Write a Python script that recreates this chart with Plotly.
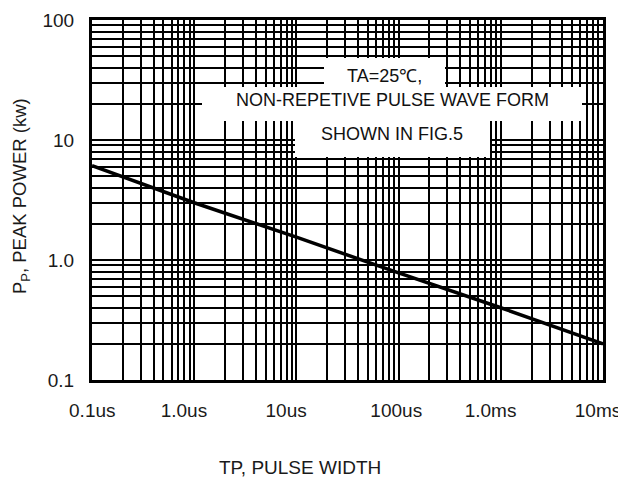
import plotly.graph_objects as go

# Data (pulse width in seconds, peak power in kW)
pulse_width_s = [1e-7, 1e-6, 1e-5, 1e-4, 1e-3, 1e-2]
peak_power_kw = [6.1, 3.0, 1.55, 0.78, 0.4, 0.2]

x_decades = [1e-7, 1e-6, 1e-5, 1e-4, 1e-3, 1e-2]
x_decade_labels = ["0.1us", "1.0us", "10us", "100us", "1.0ms", "10ms"]
y_decades = [0.1, 1.0, 10, 100]
y_decade_labels = ["0.1", "1.0", "10", "100"]

note_lines = ["TA=25℃,", "NON-REPETIVE PULSE WAVE FORM", "SHOWN IN FIG.5"]
x_title = "TP, PULSE WIDTH"
y_title = "P<sub>P</sub>, PEAK POWER (kw)"

FONT = "Liberation Sans, Arial, sans-serif"

# in the reference the x labels sit slightly off their grid lines;
# a few non-breaking spaces (leading / trailing) reproduce those offsets
NB = "\u00a0"
x_label_lead = [2, 0, 0, 1, 0, 0]
x_label_trail = [0, 2, 2, 0, 2, 0]
x_labels_shown = [NB * a + lab + NB * b
                  for lab, a, b in zip(x_decade_labels, x_label_lead, x_label_trail)]


def grid_ticks(decades, labels):
    vals, texts = [], []
    for i, d in enumerate(decades):
        vals.append(d)
        texts.append(labels[i])
        if i < len(decades) - 1:
            for k in range(2, 10):
                vals.append(d * k)
                texts.append("")
    return vals, texts


xv, xt = grid_ticks(x_decades, x_labels_shown)
yv, yt = grid_ticks(y_decades, y_decade_labels)

fig = go.Figure()
fig.add_trace(go.Scatter(
    x=pulse_width_s, y=peak_power_kw, mode="lines",
    line=dict(color="black", width=3.5), showlegend=False, hoverinfo="skip"))

# page has an 8px body margin; plot area in page pixels: x 92..603, y 20..380
OFF = 8
PL, PR, PT, PB = 92, 603, 20, 380
W, H = 626 - OFF, 479 - OFF


def px(x):
    return (x - PL) / (PR - PL)


def py(y):
    return (PB - y) / (PB - PT)


# white boxes behind the note text (page pixel positions)
boxes = [(324, 58, 445, 88), (202, 87, 582, 121), (295, 120, 490, 157)]
for (x0, y0, x1, y1) in boxes:
    fig.add_shape(type="rect", xref="paper", yref="paper",
                  x0=px(x0), x1=px(x1), y0=py(y1), y1=py(y0),
                  fillcolor="white", line=dict(width=0), layer="above")

note_pos = [(384, 76), (392, 100), (392, 134)]
for txt, (x, y) in zip(note_lines, note_pos):
    fig.add_annotation(text=txt, xref="paper", yref="paper", x=px(x), y=py(y),
                       showarrow=False, xanchor="center", yanchor="middle",
                       font=dict(family=FONT, size=18, color="#111"))

# axis titles placed where the reference has them
fig.add_annotation(text=x_title, xref="paper", yref="paper", x=px(300), y=py(467),
                   showarrow=False, xanchor="center", yanchor="middle",
                   font=dict(family=FONT, size=19, color="#1a1a1a"))
fig.add_annotation(text=y_title, xref="paper", yref="paper", x=px(21), y=py(196),
                   showarrow=False, xanchor="center", yanchor="middle", textangle=-90,
                   font=dict(family=FONT, size=18.5, color="#1a1a1a"))

fig.update_layout(
    width=W, height=H,
    margin=dict(l=PL - OFF, r=626 - PR, t=PT - OFF, b=479 - PB, autoexpand=False),
    paper_bgcolor="white", plot_bgcolor="white",
    font=dict(family=FONT, size=19, color="#1a1a1a"),
    xaxis=dict(
        type="log", range=[-7, -2], tickmode="array", tickvals=xv, ticktext=xt,
        showgrid=True, gridcolor="black", gridwidth=1.8,
        showline=True, linecolor="black", linewidth=3, mirror=True,
        ticks="outside", ticklen=11, tickcolor="rgba(0,0,0,0)",
        ticklabelshift=-5, ticklabeloverflow="allow",
        zeroline=False, automargin=False,
    ),
    yaxis=dict(
        type="log", range=[-1, 2], tickmode="array", tickvals=yv, ticktext=yt,
        showgrid=True, gridcolor="black", gridwidth=1.8,
        showline=True, linecolor="black", linewidth=3, mirror=True,
        ticks="outside", ticklen=11, tickcolor="rgba(0,0,0,0)",
        ticklabeloverflow="allow",
        zeroline=False, automargin=False,
    ),
)

fig.write_html("out.html")
